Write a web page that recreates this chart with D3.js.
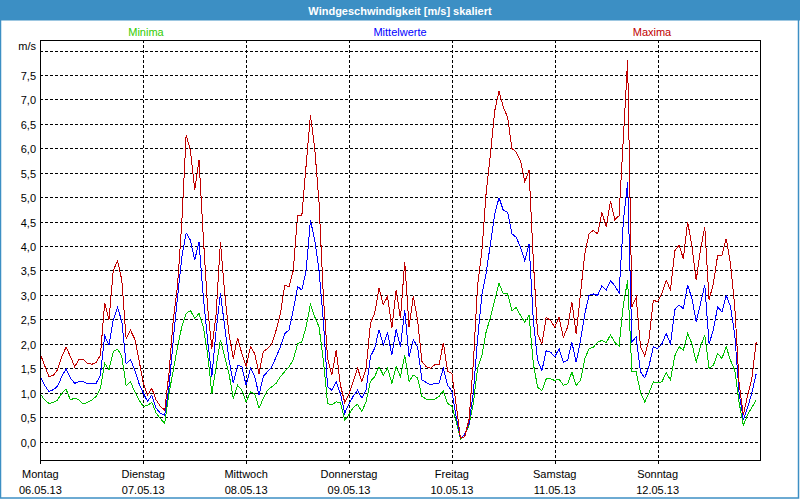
<!DOCTYPE html>
<html>
<head>
<meta charset="utf-8">
<script src="https://cdn.jsdelivr.net/npm/d3@7"></script>
<style>
body { margin: 0; background: #fff; }
svg text { font-family: Tahoma, "Liberation Sans", Arial, sans-serif; font-size: 11px; }
</style>
</head>
<body>
<svg id="chart" width="800" height="500"></svg>
<script>
// Stundenwerte, 7 Tage x 24 Stunden (Mo 06.05.13 0 Uhr .. So 12.05.13 23 Uhr)
const maxima = [
  1.79, 1.55, 1.33, 1.35, 1.47, 1.74, 1.93, 1.74, 1.53, 1.68, 1.68, 1.60, 1.58, 1.62, 1.77, 2.84, 2.49, 3.50, 3.70, 3.30, 2.10, 2.28, 2.10, 1.67,
  1.19, 0.95, 1.09, 0.85, 0.72, 0.64, 1.40, 2.49, 3.20, 4.50, 6.27, 5.96, 5.15, 5.76, 4.20, 2.76, 1.90, 2.62, 4.09, 3.03, 2.20, 1.70, 2.12, 1.80,
  1.53, 1.94, 1.80, 1.39, 1.84, 1.90, 2.00, 2.28, 2.62, 3.20, 3.17, 3.50, 4.63, 4.63, 5.66, 6.68, 6.00, 4.90, 3.00, 1.70, 1.36, 1.87, 1.15, 0.80,
  0.98, 1.23, 1.50, 1.23, 1.50, 2.42, 2.63, 3.14, 2.80, 2.97, 2.32, 3.10, 2.52, 3.68, 2.35, 2.97, 2.49, 1.64, 1.53, 1.50, 1.57, 1.57, 2.02, 1.44,
  1.39, 0.75, 0.07, 0.10, 0.45, 1.60, 3.20, 3.90, 5.10, 5.89, 6.77, 7.17, 6.84, 6.64, 6.00, 5.92, 5.75, 5.31, 5.55, 3.70, 2.20, 2.00, 2.54, 2.48,
  2.34, 2.54, 2.13, 2.34, 2.85, 2.20, 3.02, 3.84, 4.25, 4.32, 4.25, 4.69, 4.39, 4.92, 4.54, 4.62, 6.20, 7.80, 2.76, 2.95, 1.94, 1.75, 2.10, 2.89,
  2.86, 3.03, 3.30, 3.10, 3.90, 4.02, 3.74, 4.50, 4.00, 3.30, 3.92, 4.39, 2.90, 3.23, 3.81, 3.81, 4.15, 3.64, 2.76, 1.20, 0.54, 0.95, 1.30, 2.04
];
const mittelwerte = [
  1.33, 1.15, 1.02, 1.06, 1.13, 1.33, 1.49, 1.30, 1.19, 1.23, 1.23, 1.18, 1.18, 1.19, 1.36, 2.16, 1.98, 2.49, 2.74, 2.46, 1.59, 1.68, 1.47, 1.19,
  0.99, 0.82, 0.95, 0.68, 0.58, 0.54, 1.12, 2.08, 2.96, 3.78, 4.27, 4.12, 3.71, 4.09, 2.96, 2.08, 1.33, 2.28, 3.03, 2.35, 1.67, 1.19, 1.56, 1.53,
  1.15, 1.50, 1.33, 0.95, 1.33, 1.43, 1.53, 1.73, 1.94, 2.21, 2.28, 2.69, 3.17, 3.10, 3.50, 4.53, 4.12, 3.50, 2.49, 1.12, 1.05, 1.22, 0.98, 0.58,
  0.77, 0.93, 1.05, 0.89, 1.06, 1.74, 1.91, 2.29, 1.98, 2.22, 1.77, 2.29, 1.94, 2.69, 1.74, 2.08, 1.94, 1.26, 1.21, 1.16, 1.19, 1.19, 1.50, 1.15,
  1.03, 0.50, 0.06, 0.15, 0.37, 1.00, 2.10, 3.00, 3.45, 4.05, 4.66, 4.99, 4.73, 4.69, 4.25, 4.18, 3.98, 3.70, 4.05, 2.48, 1.66, 1.45, 1.86, 1.83,
  1.73, 1.90, 1.62, 1.66, 2.03, 1.62, 2.07, 2.61, 2.99, 3.02, 2.99, 3.19, 3.10, 3.29, 3.19, 3.04, 4.50, 5.30, 2.04, 2.14, 1.43, 1.30, 1.55, 1.94,
  1.90, 2.00, 2.21, 2.00, 2.70, 2.79, 2.72, 3.20, 2.93, 2.45, 2.82, 3.20, 2.00, 2.28, 2.76, 2.65, 2.99, 2.76, 2.18, 1.00, 0.44, 0.70, 1.00, 1.39
];
const minima = [
  0.97, 0.85, 0.78, 0.80, 0.85, 0.99, 1.07, 0.85, 0.89, 0.85, 0.77, 0.80, 0.85, 0.92, 1.09, 1.60, 1.47, 1.84, 1.89, 1.74, 1.14, 1.23, 1.02, 0.85,
  0.72, 0.74, 0.80, 0.58, 0.47, 0.37, 0.98, 1.46, 1.94, 2.35, 2.62, 2.68, 2.52, 2.62, 2.35, 1.80, 0.98, 1.53, 2.08, 1.73, 1.39, 0.88, 1.15, 1.05,
  0.81, 1.02, 0.98, 0.68, 0.88, 1.05, 1.12, 1.19, 1.33, 1.43, 1.53, 1.67, 2.00, 2.04, 2.35, 2.81, 2.55, 2.35, 1.67, 0.78, 0.75, 0.81, 0.80, 0.44,
  0.55, 0.70, 0.76, 0.61, 0.82, 1.23, 1.33, 1.53, 1.36, 1.50, 1.19, 1.53, 1.33, 1.77, 1.23, 1.36, 1.30, 0.92, 0.87, 0.85, 0.87, 0.92, 1.04, 0.78,
  0.72, 0.40, 0.05, 0.15, 0.33, 0.78, 1.50, 1.76, 2.25, 2.54, 2.89, 3.24, 3.02, 3.02, 2.68, 2.74, 2.58, 2.44, 2.58, 1.59, 1.11, 1.04, 1.28, 1.28,
  1.25, 1.28, 1.15, 1.18, 1.42, 1.15, 1.25, 1.69, 1.90, 1.93, 2.03, 2.07, 2.02, 2.18, 2.03, 1.95, 2.80, 3.30, 1.43, 1.43, 1.00, 0.81, 1.00, 1.22,
  1.21, 1.22, 1.41, 1.26, 1.75, 1.94, 1.87, 2.21, 2.00, 1.63, 1.94, 2.18, 1.50, 1.56, 1.80, 1.70, 1.94, 1.66, 1.46, 0.80, 0.33, 0.55, 0.70, 0.85
];

const tage = ["Montag", "Dienstag", "Mittwoch", "Donnerstag", "Freitag", "Samstag", "Sonntag"];
const daten = ["06.05.13", "07.05.13", "08.05.13", "09.05.13", "10.05.13", "11.05.13", "12.05.13"];
const yTicks = [0, 0.5, 1, 1.5, 2, 2.5, 3, 3.5, 4, 4.5, 5, 5.5, 6, 6.5, 7, 7.5];
const yEinheit = "m/s";
const titel = "Windgeschwindigkeit [m/s] skaliert";
const legende = ["Minima", "Mittelwerte", "Maxima"];

const frameBlue = "#3c8fc4";
const red = "#c00000";
const blue = "#0000ff";
const green = "#00c000";

const de = d3.formatLocale({ decimal: ",", thousands: ".", grouping: [3], currency: ["", "€"] });
const fmt = de.format(".1f");

const svg = d3.select("#chart");

// Plotbereich
const pLeft = 40, pRight = 760.5, pTop = 40, pBottom = 460;
const x = d3.scaleLinear().domain([0, 168]).range([pLeft + 0.4, pRight]);
const y = d3.scaleLinear().domain([0, 8]).range([441.5, 50.6]);

// Fensterrahmen + Titelleiste
svg.append("rect").attr("x", 0.5).attr("y", 0.5).attr("width", 798).attr("height", 497.5)
    .attr("fill", "#fff").attr("stroke", frameBlue).attr("stroke-width", 1.5);
svg.append("rect").attr("x", 0).attr("y", 0).attr("width", 800).attr("height", 20.5).attr("fill", frameBlue);
svg.append("text").text(titel)
    .attr("x", 400).attr("y", 14.5).attr("text-anchor", "middle")
    .attr("fill", "white").attr("font-weight", "bold");

// Legende ueber dem Diagramm
const legendX = [146, 400, 652];
const legendC = ["#33cc00", blue, red];
svg.selectAll(".leg").data(legende).enter().append("text").attr("class", "leg")
    .text(d => d).attr("x", (d, i) => legendX[i]).attr("y", 36)
    .attr("text-anchor", "middle").attr("fill", (d, i) => legendC[i]);

// Gitter
const grid = svg.append("g").attr("stroke", "black").attr("stroke-dasharray", "3,2")
    .attr("shape-rendering", "crispEdges");
grid.selectAll(".h").data(yTicks.concat([8])).enter().append("line")
    .attr("x1", pLeft).attr("x2", pRight).attr("y1", d => Math.round(y(d)) + 0.5).attr("y2", d => Math.round(y(d)) + 0.5);
grid.selectAll(".v").data(d3.range(1, 7)).enter().append("line")
    .attr("y1", pTop).attr("y2", pBottom).attr("x1", d => Math.round(x(d * 24)) + 0.5).attr("x2", d => Math.round(x(d * 24)) + 0.5);

// Achsenbeschriftung
svg.selectAll(".yl").data(yTicks).enter().append("text").attr("class", "yl")
    .text(d => fmt(d)).attr("x", 36).attr("y", d => y(d) + 5).attr("text-anchor", "end");
svg.append("text").text(yEinheit).attr("x", 36).attr("y", y(8) - 1).attr("text-anchor", "end");

svg.selectAll(".tick").data(d3.range(0, 7)).enter().append("line")
    .attr("x1", d => Math.round(x(d * 24)) + 0.5).attr("x2", d => Math.round(x(d * 24)) + 0.5)
    .attr("y1", pBottom).attr("y2", pBottom + 4).attr("stroke", "black").attr("shape-rendering", "crispEdges");
svg.selectAll(".day").data(tage).enter().append("text")
    .text(d => d).attr("x", (d, i) => x(i * 24)).attr("y", 478).attr("text-anchor", "middle");
svg.selectAll(".date").data(daten).enter().append("text")
    .text(d => d).attr("x", (d, i) => x(i * 24)).attr("y", 494).attr("text-anchor", "middle");

// Linien: Minima, Mittelwerte, Maxima
const line = d3.line().x((d, i) => x(i)).y(d => y(d));
[[minima, green], [mittelwerte, blue], [maxima, red]].forEach(s => {
    svg.append("path").datum(s[0]).attr("d", line)
        .attr("fill", "none").attr("stroke", s[1]).attr("stroke-width", 1)
        .attr("shape-rendering", "crispEdges");
});

// Rahmen des Plotbereichs
svg.append("rect").attr("x", pLeft + 0.5).attr("y", pTop + 0.5)
    .attr("width", pRight - pLeft - 0.5).attr("height", pBottom - pTop)
    .attr("fill", "none").attr("stroke", "black").attr("shape-rendering", "crispEdges");
</script>
</body>
</html>
